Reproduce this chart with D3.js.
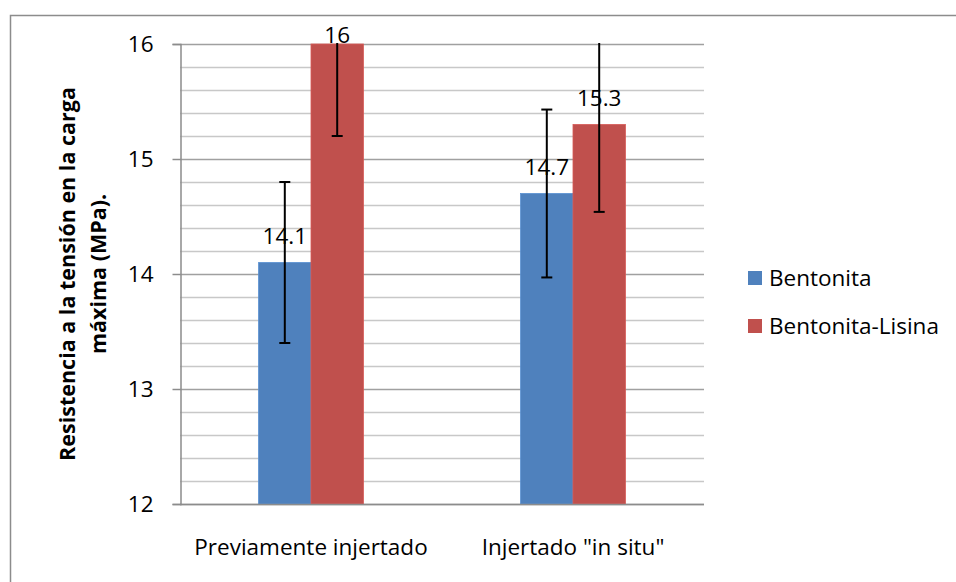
<!DOCTYPE html>
<html><head><meta charset="utf-8">
<script src="https://cdn.jsdelivr.net/npm/d3@7"></script>
<style>body{margin:0;background:#fff}svg{display:block}text{font-family:"Open Sans",sans-serif}</style>
</head><body>
<svg id="c" width="956" height="582"></svg>
<script>
const categories = ["Previamente injertado", "Injertado \"in situ\""];
const seriesNames = ["Bentonita", "Bentonita-Lisina"];
const bentonita = [14.1, 14.7];
const bentonitaLisina = [16, 15.3];
const errBentonita = [0.7, 0.73];
const errLisina = [0.8, 0.76];
const yTicks = [12, 13, 14, 15, 16];
const colors = ["#4F81BD", "#C0504D"];

const series = [bentonita, bentonitaLisina];
const errs = [errBentonita, errLisina];
const FS = 22.5;

const svg = d3.select("#c");
const m = {l: 180, r: 704, t: 44, b: 504};

svg.append("rect").attr("x", 10.5).attr("y", 15.5).attr("width", 1000).attr("height", 1000)
  .attr("fill", "none").attr("stroke", "#8c8c8c").attr("stroke-width", 1.5);

const y = d3.scaleLinear().domain([12, 16]).range([m.b, m.t]);
const x0 = d3.scaleBand().domain(categories).range([m.l, m.r]).paddingInner(0).paddingOuter(0);
const groupW = x0.bandwidth() * 0.4;
const x1 = d3.scaleBand().domain(seriesNames).range([0, groupW]);

// minor gridlines
const minor = d3.range(12, 16.001, 0.2);
svg.append("g").selectAll("line").data(minor).join("line")
  .attr("x1", m.l).attr("x2", m.r)
  .attr("y1", d => Math.round(y(d)) + 0.5).attr("y2", d => Math.round(y(d)) + 0.5)
  .attr("stroke", d => Math.abs(d - Math.round(d)) < 1e-6 ? "#a0a0a0" : "#c8c8c8")
  .attr("stroke-width", 1.5);

// bars
const g = svg.append("g");
categories.forEach((c, i) => {
  seriesNames.forEach((s, j) => {
    const bx = x0(c) + (x0.bandwidth() - groupW) / 2 + x1(s);
    g.append("rect").attr("x", bx).attr("y", y(series[j][i]))
      .attr("width", x1.bandwidth()).attr("height", y(12) - y(series[j][i]))
      .attr("fill", colors[j]).attr("stroke", d3.color(colors[j]).brighter(0.3)).attr("stroke-width", 0.8);
  });
});

// axes
const yAxis = d3.axisLeft(y).tickValues(yTicks).tickSize(8).tickPadding(19).tickFormat(d3.format("d"));
const ya = svg.append("g").attr("transform", `translate(${m.l + 0.5},0)`).call(yAxis);
ya.select(".domain").attr("stroke", "#8c8c8c").attr("stroke-width", 1.5);
ya.selectAll(".tick line").attr("stroke", "#8c8c8c").attr("stroke-width", 1.5);
ya.selectAll(".tick text").attr("font-size", FS).attr("fill", "#000");

svg.append("line").attr("x1", m.l).attr("x2", m.r).attr("y1", y(12) + 0.5).attr("y2", y(12) + 0.5)
  .attr("stroke", "#8c8c8c").attr("stroke-width", 1.5);

// category labels
svg.append("g").selectAll("text").data(categories).join("text")
  .attr("x", d => x0(d) + x0.bandwidth() / 2).attr("y", 555)
  .attr("text-anchor", "middle").attr("font-size", FS).text(d => d);

// error bars (clipped)
svg.append("clipPath").attr("id", "clip").append("rect")
  .attr("x", m.l).attr("y", m.t - 1).attr("width", m.r - m.l).attr("height", m.b - m.t + 2);
const eg = svg.append("g").attr("clip-path", "url(#clip)");
categories.forEach((c, i) => {
  seriesNames.forEach((s, j) => {
    const cx = x0(c) + (x0.bandwidth() - groupW) / 2 + x1(s) + x1.bandwidth() / 2;
    const v = series[j][i], e = errs[j][i];
    eg.append("line").attr("x1", cx).attr("x2", cx).attr("y1", y(v - e)).attr("y2", y(v + e))
      .attr("stroke", "#000").attr("stroke-width", 2);
    [v - e, v + e].forEach(w => {
      eg.append("line").attr("x1", cx - 5.5).attr("x2", cx + 5.5).attr("y1", y(w)).attr("y2", y(w))
        .attr("stroke", "#000").attr("stroke-width", 2);
    });
  });
});

// data labels
categories.forEach((c, i) => {
  seriesNames.forEach((s, j) => {
    const cx = x0(c) + (x0.bandwidth() - groupW) / 2 + x1(s) + x1.bandwidth() / 2;
    const v = series[j][i];
    svg.append("text").attr("x", cx).attr("y", Math.max(y(v) - 19, y(16) - 1))
      .attr("text-anchor", "middle").attr("font-size", FS).text(d3.format("")(v));
  });
});

// y title
const yt = svg.append("text").attr("transform", "rotate(-90)")
  .attr("font-weight", "bold").attr("font-size", 21.5).attr("text-anchor", "middle");
yt.append("tspan").attr("x", -274).attr("y", 75).text("Resistencia a la tensión en la carga");
yt.append("tspan").attr("x", -274).attr("y", 106).text("máxima (MPa).");

// legend
const lg = svg.append("g");
seriesNames.forEach((s, j) => {
  lg.append("rect").attr("x", 748).attr("y", 271 + j * 48).attr("width", 14).attr("height", 14).attr("fill", colors[j]);
  lg.append("text").attr("x", 769).attr("y", 286 + j * 48).attr("font-size", FS).text(s);
});
</script>
</body></html>
